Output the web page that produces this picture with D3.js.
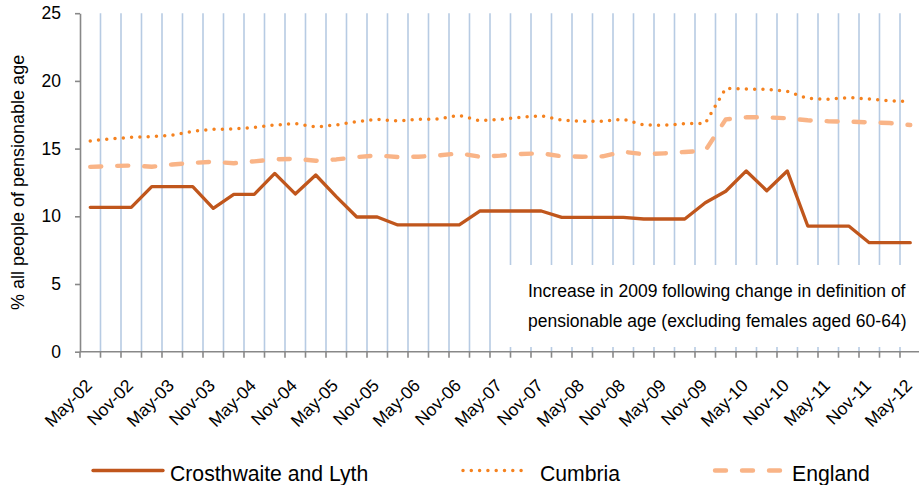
<!DOCTYPE html>
<html><head><meta charset="utf-8">
<script src="https://cdn.jsdelivr.net/npm/d3@7"></script>
<style>
body{margin:0;background:#fff}
svg{display:block}
text{font-family:"Liberation Sans",Arial,sans-serif;fill:#000}
</style></head>
<body><svg id="c" width="919" height="485"></svg>
<script>
const categories = ["May-02","Aug-02","Nov-02","Feb-03","May-03","Aug-03","Nov-03","Feb-04","May-04","Aug-04","Nov-04","Feb-05","May-05","Aug-05","Nov-05","Feb-06","May-06","Aug-06","Nov-06","Feb-07","May-07","Aug-07","Nov-07","Feb-08","May-08","Aug-08","Nov-08","Feb-09","May-09","Aug-09","Nov-09","Feb-10","May-10","Aug-10","Nov-10","Feb-11","May-11","Aug-11","Nov-11","Feb-12","May-12"];
const tickLabels = ["May-02","Nov-02","May-03","Nov-03","May-04","Nov-04","May-05","Nov-05","May-06","Nov-06","May-07","Nov-07","May-08","Nov-08","May-09","Nov-09","May-10","Nov-10","May-11","Nov-11","May-12"];
const crosthwaite = [10.66,10.66,10.66,12.19,12.19,12.19,10.59,11.62,11.62,13.17,11.65,13.05,11.45,9.95,9.95,9.36,9.36,9.36,9.36,10.39,10.39,10.39,10.39,9.92,9.92,9.92,9.92,9.80,9.80,9.80,11.0,11.85,13.35,11.89,13.35,9.28,9.28,9.28,8.05,8.05,8.05];
const cumbria = [15.56,15.73,15.83,15.88,16.0,16.28,16.42,16.45,16.57,16.74,16.85,16.6,16.75,17.0,17.16,17.04,17.16,17.19,17.46,17.06,17.16,17.31,17.43,17.11,17.02,17.02,17.16,16.74,16.73,16.84,16.87,19.45,19.4,19.38,19.23,18.71,18.64,18.77,18.66,18.52,18.49];
const england = [13.65,13.71,13.75,13.66,13.83,13.94,14.03,13.92,14.06,14.2,14.25,14.1,14.2,14.37,14.5,14.38,14.4,14.5,14.65,14.4,14.48,14.6,14.65,14.43,14.4,14.43,14.77,14.58,14.65,14.75,14.85,17.16,17.31,17.31,17.24,17.09,17.02,16.99,16.94,16.89,16.74];
const yTicks = [0,5,10,15,20,25];
const seriesNames = ["Crosthwaite and Lyth","Cumbria","England"];
const yTitle = "% all people of pensionable age";
const annotationLines = ["Increase in 2009 following change in definition of","pensionable age (excluding females aged 60-64)"];

const svg = d3.select("#c");
const x = d3.scaleBand().domain(categories).range([80, 80 + categories.length * 20.5]).padding(0);
const y = d3.scaleLinear().domain([0, 25]).range([351.7, 13.2]);
const cx = c => x(c) + x.bandwidth() / 2;
const axisColor = "#888888";

// vertical gridlines at category boundaries
svg.append("g").selectAll("line").data(categories.slice(1)).join("line")
  .attr("x1", d => x(d)).attr("x2", d => x(d))
  .attr("y1", y(25)).attr("y2", y(0))
  .attr("stroke", "#b7cbe3").attr("stroke-width", 1.6);

// annotation box
svg.append("rect").attr("x", 504).attr("y", 265).attr("width", 415).attr("height", 82).attr("fill", "#fff");
svg.append("g").selectAll("text").data(annotationLines).join("text")
  .attr("x", 528).attr("y", (d, i) => 297 + i * 30)
  .attr("font-size", 17.5).text(d => d);

// y axis
const yAxis = svg.append("g").attr("transform", "translate(80,0)")
  .call(d3.axisLeft(y).tickValues(yTicks).tickSize(5).tickSizeOuter(0).tickPadding(14));
yAxis.select(".domain").attr("stroke", axisColor).attr("stroke-width", 1.6);
yAxis.selectAll(".tick line").attr("stroke", axisColor).attr("stroke-width", 1.6);
yAxis.selectAll(".tick text").attr("font-size", 17.5).attr("font-family", '"Liberation Sans",Arial,sans-serif').attr("fill", "#000");

// x axis
svg.append("line").attr("x1", 80).attr("x2", 919).attr("y1", y(0)).attr("y2", y(0))
  .attr("stroke", axisColor).attr("stroke-width", 1.6);
svg.append("g").selectAll("line").data(categories).join("line")
  .attr("x1", d => x(d)).attr("x2", d => x(d))
  .attr("y1", y(0)).attr("y2", y(0) + 6)
  .attr("stroke", axisColor).attr("stroke-width", 1.6);
svg.append("g").selectAll("text").data(tickLabels).join("text")
  .attr("transform", d => `translate(${cx(d) + 3},${y(0) + 35}) rotate(-45)`)
  .attr("text-anchor", "end").attr("font-size", 17.5).text(d => d);

// y title
svg.append("text").attr("transform", `translate(24,${(y(0) + y(25)) / 2}) rotate(-90)`)
  .attr("text-anchor", "middle").attr("font-size", 18).text(yTitle);

// lines
const line = d3.line().x((d, i) => cx(categories[i])).y(d => y(d));
const styles = [
  {stroke: "#c0561c", width: 3.3, dash: null, cap: "round"},
  {stroke: "#f5821f", width: 3.5, dash: "0,8.3", cap: "round"},
  {stroke: "#f9b487", width: 4.4, dash: "11,16", cap: "round"}
];
const data = [crosthwaite, cumbria, england];
[2, 1, 0].forEach(i => {
  svg.append("path").datum(data[i]).attr("d", line)
    .attr("fill", "none").attr("stroke", styles[i].stroke)
    .attr("stroke-width", styles[i].width)
    .attr("stroke-linecap", styles[i].cap).attr("stroke-linejoin", "round")
    .attr("stroke-dasharray", styles[i].dash);
});

// legend
const legendPos = [{x1: 93, x2: 163, tx: 170}, {x1: 463, x2: 523, tx: 540}, {x1: 715, x2: 783, tx: 792}];
const lg = svg.append("g");
seriesNames.forEach((name, i) => {
  lg.append("line").attr("x1", legendPos[i].x1).attr("x2", legendPos[i].x2)
    .attr("y1", 470.5).attr("y2", 470.5)
    .attr("stroke", styles[i].stroke).attr("stroke-width", styles[i].width)
    .attr("stroke-linecap", styles[i].cap).attr("stroke-dasharray", styles[i].dash);
  lg.append("text").attr("x", legendPos[i].tx).attr("y", 480.5).attr("font-size", 21.2).text(name);
});
</script></body></html>
